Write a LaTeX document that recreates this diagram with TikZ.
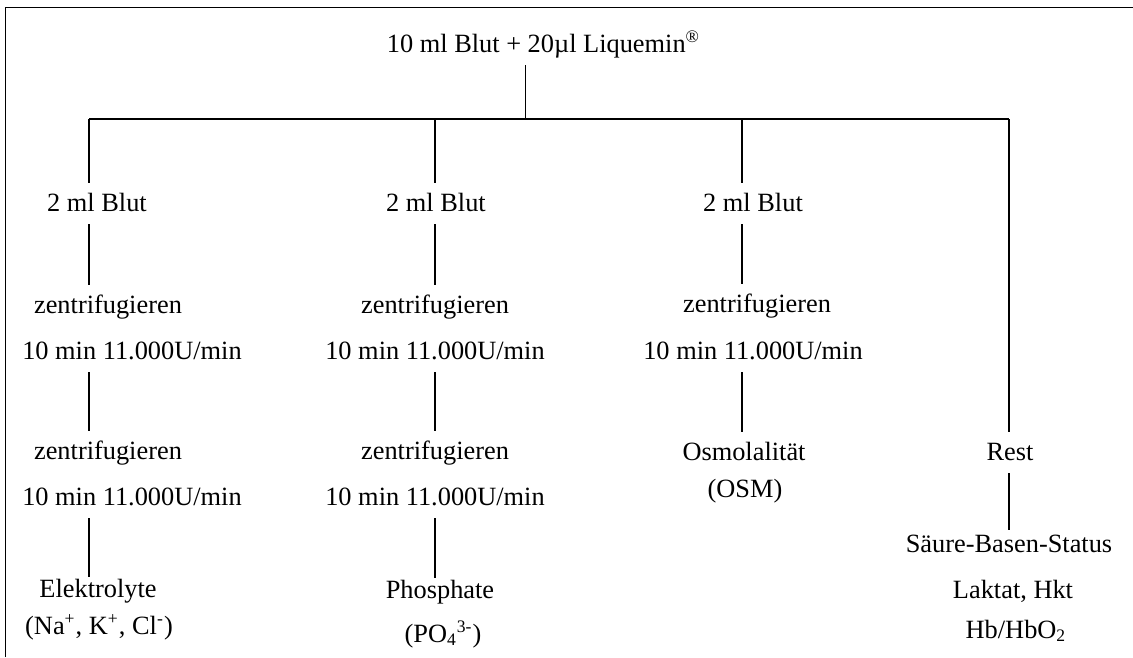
\documentclass[tikz,border=0pt]{standalone}
\usepackage{fontspec}
\setmainfont{Liberation Serif}
\usetikzlibrary{positioning,calc}
\definecolor{ink}{RGB}{0,0,0}
\tikzset{
  lbl/.style={font=\fontsize{12}{14}\selectfont,text=ink,inner sep=0pt,
    text height=9pt,text depth=2.2pt,outer ysep=3.75pt,anchor=base},
  link/.style={draw=ink,line width=0.6pt},
  link/.default=ink,
  frame/.style={draw=ink,line width=0.9pt},
}

\begin{document}
\begin{tikzpicture}
    \useasboundingbox (0,0) rectangle (18.128,-10.512);
    \draw[frame] (0.088,-10.512) -- (0.088,-0.12) -- (18.128,-0.12);

    \node[lbl] (top) at (8.696,-0.832) {10 ml Blut + 20µl Liquemin\textsuperscript{®}};

    % junctions on the bar
    \coordinate (bar) at (8.41,-1.904);
    \foreach \n/\x in {c1/1.424,c2/6.96,c3/11.872,c4/16.144}
      \coordinate (\n) at (\x,-1.904);

    % first column
    \node[lbl] (b1) at (1.552,-3.376) {2 ml Blut};
    \node[lbl] (z1a) at (1.728,-5.008) {zentrifugieren};
    \node[lbl] (m1a) at (2.112,-5.744) {10 min 11.000U/min};
    \node[lbl] (z1b) at (1.728,-7.344) {zentrifugieren};
    \node[lbl] (m1b) at (2.112,-8.08) {10 min 11.000U/min};
    \node[lbl] (e1) at (1.568,-9.552) {Elektrolyte};
    \node[lbl] (i1) at (1.584,-10.144) {(Na\textsuperscript{+}, K\textsuperscript{+}, Cl\textsuperscript{-})};

    % second column
    \node[lbl] (b2) at (6.976,-3.376) {2 ml Blut};
    \node[lbl] (z2a) at (6.96,-5.008) {zentrifugieren};
    \node[lbl] (m2a) at (6.96,-5.744) {10 min 11.000U/min};
    \node[lbl] (z2b) at (6.96,-7.344) {zentrifugieren};
    \node[lbl] (m2b) at (6.96,-8.08) {10 min 11.000U/min};
    \node[lbl] (p2) at (7.04,-9.568) {Phosphate};
    \node[lbl] (q2) at (7.088,-10.272) {(PO\textsubscript{4}\textsuperscript{3-})};

    % third column
    \node[lbl] (b3) at (12.048,-3.376) {2 ml Blut};
    \node[lbl] (z3) at (12.112,-4.992) {zentrifugieren};
    \node[lbl] (m3) at (12.048,-5.744) {10 min 11.000U/min};
    \node[lbl] (o3) at (11.904,-7.36) {Osmolalität};
    \node[lbl] (s3) at (11.92,-7.952) {(OSM)};

    % rest
    \node[lbl] (r) at (16.16,-7.36) {Rest};
    \node[lbl] (sb) at (16.144,-8.832) {Säure-Basen-Status};
    \node[lbl] (lk) at (16.208,-9.568) {Laktat, Hkt};
    \node[lbl] (hb) at (16.256,-10.208) {Hb/HbO\textsubscript{2}};

    \draw[link] (top.south -| bar) -- (bar);
    \draw[link] (c1) -- (c4);
    \draw[link] (c1) -- (b1.north -| c1);
    \draw[link] (c2) -- (b2.north -| c2);
    \draw[link] (c3) -- (b3.north -| c3);
    \draw[link] (c4) -- (r.north -| c4);

    \draw[link] (b1.south -| c1) -- (z1a.north -| c1);
    \draw[link] (m1a.south -| c1) -- (z1b.north -| c1);
    \draw[link,shorten >=-3.5pt] (m1b.south -| c1) -- (e1.north -| c1);

    \draw[link] (b2.south -| c2) -- (z2a.north -| c2);
    \draw[link] (m2a.south -| c2) -- (z2b.north -| c2);
    \draw[link,shorten >=-3.5pt] (m2b.south -| c2) -- (p2.north -| c2);

    \draw[link] (b3.south -| c3) -- (z3.north -| c3);
    \draw[link] (m3.south -| c3) -- (o3.north -| c3);

    \draw[link,shorten >=-2.7pt] (r.south -| c4) -- (sb.north -| c4);
\end{tikzpicture}
\end{document}
